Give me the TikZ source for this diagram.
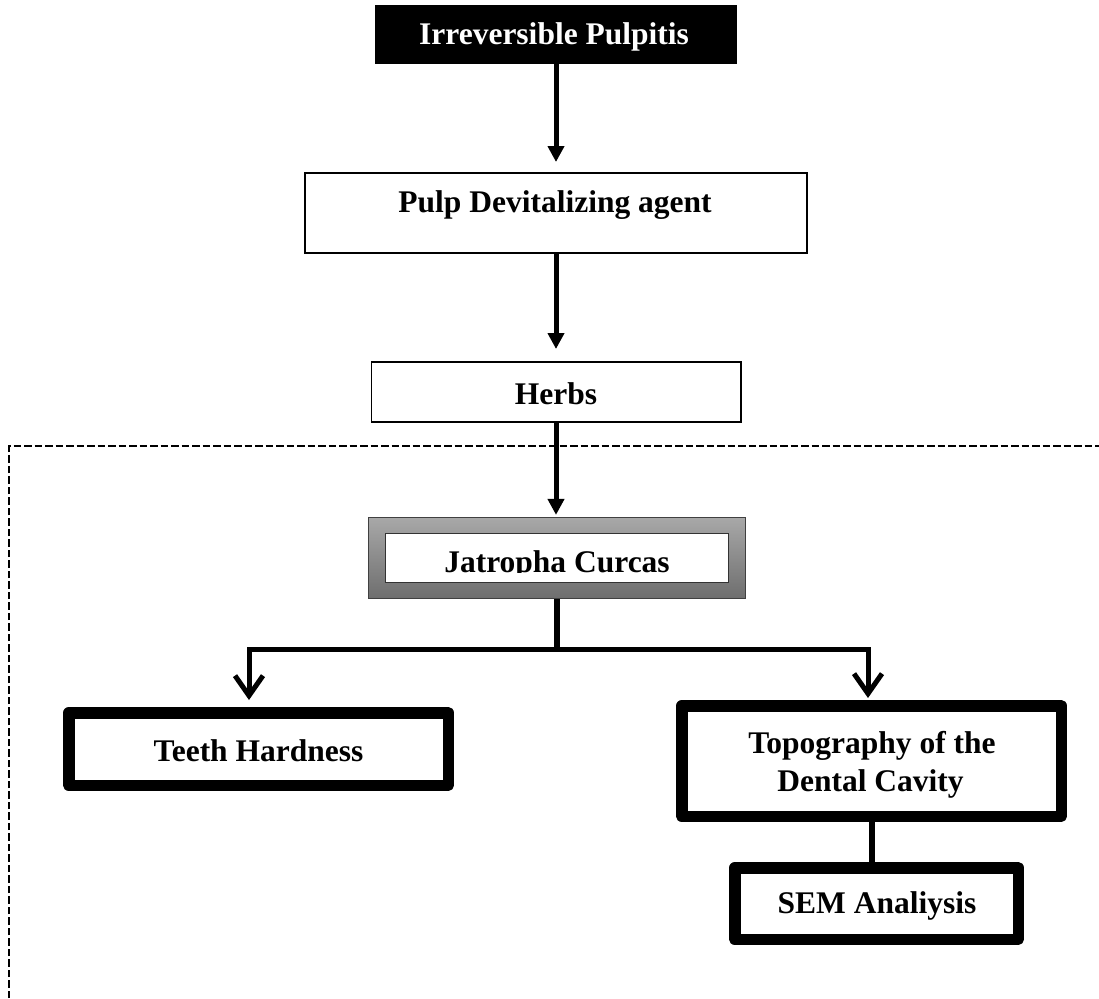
\documentclass[tikz,border=0pt]{standalone}
\usepackage{fontspec}
\setmainfont{Liberation Serif}
\usetikzlibrary{arrows.meta}
\definecolor{jtop}{RGB}{168,168,168}
\definecolor{jbot}{RGB}{110,110,110}
\begin{document}
\begin{tikzpicture}[x=1pt,y=-1pt,
  lbl/.style={font=\bfseries\fontsize{31.5}{38}\selectfont, inner sep=0pt, anchor=base},
  thinbox/.style={draw=black, line width=1.6pt, fill=white, inner sep=0pt},
  thickbox/.style={draw=black, line width=11.5pt, line join=round, fill=white, inner sep=0pt},
  arr/.style={line width=5pt, -{Triangle[length=16pt,width=16pt]}},
  barb/.style={line width=5pt, -{Straight Barb[length=20pt,width=28pt,line width=5pt]}},
  conn/.style={line width=6pt},
  fence/.style={line width=2.6pt, dash pattern=on 7.5pt off 3pt}
  ]
\useasboundingbox (0,0) rectangle (1099,998);
\fill[white] (0,0) rectangle (1099,998);

% dashed frame
\draw[fence] (9,998) -- (9,446) -- (1099,446);

% boxes
\node[fill=black, draw=black, inner sep=0pt, minimum width=361pt, minimum height=58pt] (ip) at (556,34) {};
\node[lbl, text=white] (ipt) at (554,45) {Irreversible Pulpitis};

\node[thinbox, minimum width=502.4pt, minimum height=80.4pt] (pulp) at (556,213) {};
\node[lbl] (pulpt) at (555,212) {Pulp Devitalizing agent};

\node[thinbox, minimum width=369.4pt, minimum height=60.4pt] (herbs) at (556,392) {};
\node[lbl] (herbst) at (556,404) {Herbs};

\node[draw=black!75, line width=1.2pt, top color=jtop, bottom color=jbot, inner sep=0pt,
      minimum width=377pt, minimum height=81pt] (jat) at (557,558) {};
\node[draw=black!80, fill=white, line width=1.2pt, inner sep=0pt,
      minimum width=343pt, minimum height=49pt] (jatin) at (557,558) {};
\begin{scope}
  \clip (385,533) rectangle (729,572.5);
  \node[lbl] (jatt) at (557,572) {Jatropha Curcas};
\end{scope}

\node[thickbox, minimum width=379.5pt, minimum height=72.5pt] (teeth) at (258.5,749) {};
\node[lbl] (teetht) at (258.5,761) {Teeth Hardness};

\node[thickbox, minimum width=379.5pt, minimum height=110.5pt] (topo) at (871.5,761) {};
\node[lbl] (topot1) at (872,753) {Topography of the};
\node[lbl] (topot2) at (870.5,791) {Dental Cavity};

\node[thickbox, minimum width=283.5pt, minimum height=71.5pt] (sem) at (876.5,903.5) {};
\node[lbl] (semt) at (877,913) {SEM Analiysis};

% connectors
\draw[arr, shorten >=10pt] (ip.south) -- (pulp.north);
\draw[arr, shorten >=12pt] (pulp.south) -- (herbs.north);
\draw[arr, shorten >=2pt] (herbs.south) -- (herbs.south |- jat.north);

\coordinate (split) at (557,649);
\coordinate (lt) at (249,649);
\coordinate (rt) at (868,649);
\draw[conn] (jat.south) -- (split);
\draw[barb, shorten >=7pt] (split) -| (teeth.north -| lt);
\draw[barb, shorten >=2pt] (split) -| (topo.north -| rt);

\draw[conn] (topo.south) -- (topo.south |- sem.north);
\end{tikzpicture}
\end{document}
